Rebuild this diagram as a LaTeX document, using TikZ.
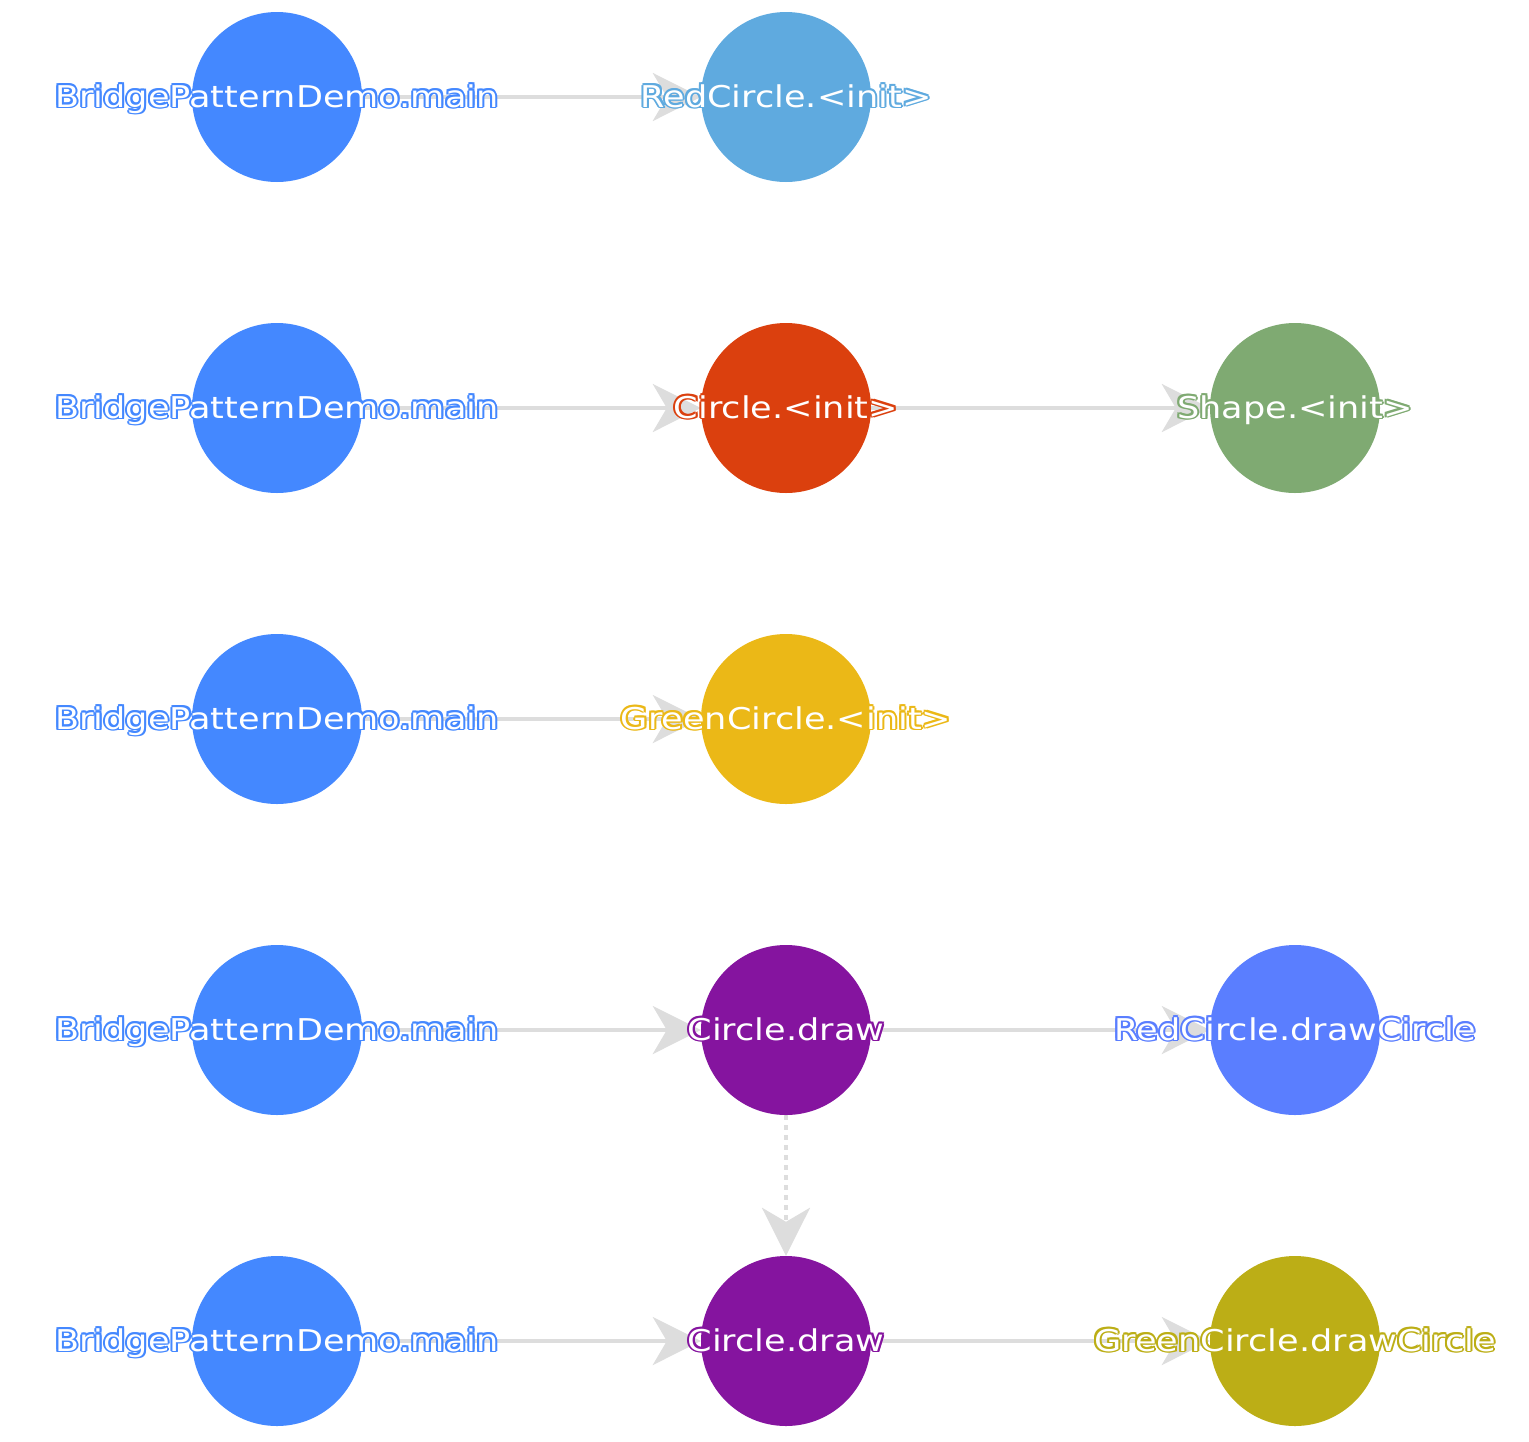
\documentclass[tikz,border=0pt]{standalone}
\usepackage{fontspec}
\setmainfont{DejaVu Sans}
\usetikzlibrary{arrows.meta}
\pgfdeclarelayer{background}
\pgfsetlayers{background,main}
\definecolor{cmain}{HTML}{4488FF}
\definecolor{credinit}{HTML}{5FAADF}
\definecolor{ccinit}{HTML}{DB400E}
\definecolor{cshape}{HTML}{7FAA72}
\definecolor{cgreeninit}{HTML}{EBB817}
\definecolor{cdraw}{HTML}{85149F}
\definecolor{creddraw}{HTML}{5A7EFF}
\definecolor{cgreendraw}{HTML}{BCAE16}
\definecolor{edgegray}{HTML}{DDDDDD}
\newcommand\hcopy[3]{\makebox[0pt][l]{\hspace*{#1}\raisebox{#2}{#3}}}
\newcommand\halo[2]{{\color{#1}%
 \hcopy{1.7pt}{0pt}{#2}\hcopy{-1.7pt}{0pt}{#2}\hcopy{0pt}{1.9pt}{#2}\hcopy{0pt}{-1.9pt}{#2}%
 \hcopy{1.2pt}{1.3pt}{#2}\hcopy{-1.2pt}{1.3pt}{#2}\hcopy{1.2pt}{-1.3pt}{#2}\hcopy{-1.2pt}{-1.3pt}{#2}}%
 {\color{white}#2}}
\newcommand\lbl[2]{\makebox[0pt]{\raisebox{-10pt}[0pt][0pt]{\scalebox{1.17}[1]{\halo{#1}{#2}}}}}
\tikzset{
  fn/.style={circle, minimum size=170pt, inner sep=0pt, fill=#1},
  call/.style={draw=edgegray, line width=4pt, -{Stealth[length=48pt,width=48pt,inset=14pt]}},
  seq/.style={call, dash pattern=on 5pt off 5pt},
}
\begin{document}
\begin{tikzpicture}[x=1pt,y=-1pt,font=\fontsize{30}{36}\selectfont]
\useasboundingbox (0,0) rectangle (1529,1441);
\node[fn=cmain] (b1) at (277,97) {\lbl{cmain}{BridgePatternDemo.main}};
\node[fn=credinit] (r1) at (786,97) {\lbl{credinit}{RedCircle.<init>}};
\node[fn=cmain] (b2) at (277,408) {\lbl{cmain}{BridgePatternDemo.main}};
\node[fn=ccinit] (c2) at (786,408) {\lbl{ccinit}{Circle.<init>}};
\node[fn=cshape] (s2) at (1295,408) {\lbl{cshape}{Shape.<init>}};
\node[fn=cmain] (b3) at (277,719) {\lbl{cmain}{BridgePatternDemo.main}};
\node[fn=cgreeninit] (g3) at (786,719) {\lbl{cgreeninit}{GreenCircle.<init>}};
\node[fn=cmain] (b4) at (277,1030) {\lbl{cmain}{BridgePatternDemo.main}};
\node[fn=cdraw] (d4) at (786,1030) {\lbl{cdraw}{Circle.draw}};
\node[fn=creddraw] (r4) at (1295,1030) {\lbl{creddraw}{RedCircle.drawCircle}};
\node[fn=cmain] (b5) at (277,1341) {\lbl{cmain}{BridgePatternDemo.main}};
\node[fn=cdraw] (d5) at (786,1341) {\lbl{cdraw}{Circle.draw}};
\node[fn=cgreendraw] (g5) at (1295,1341) {\lbl{cgreendraw}{GreenCircle.drawCircle}};
\begin{pgfonlayer}{background}
\draw[call] (b1) -- (r1);
\draw[call] (b2) -- (c2);
\draw[call] (c2) -- (s2);
\draw[call] (b3) -- (g3);
\draw[call] (b4) -- (d4);
\draw[call] (d4) -- (r4);
\draw[seq] (d4) -- (d5);
\draw[call] (b5) -- (d5);
\draw[call] (d5) -- (g5);
\end{pgfonlayer}
\end{tikzpicture}
\end{document}
